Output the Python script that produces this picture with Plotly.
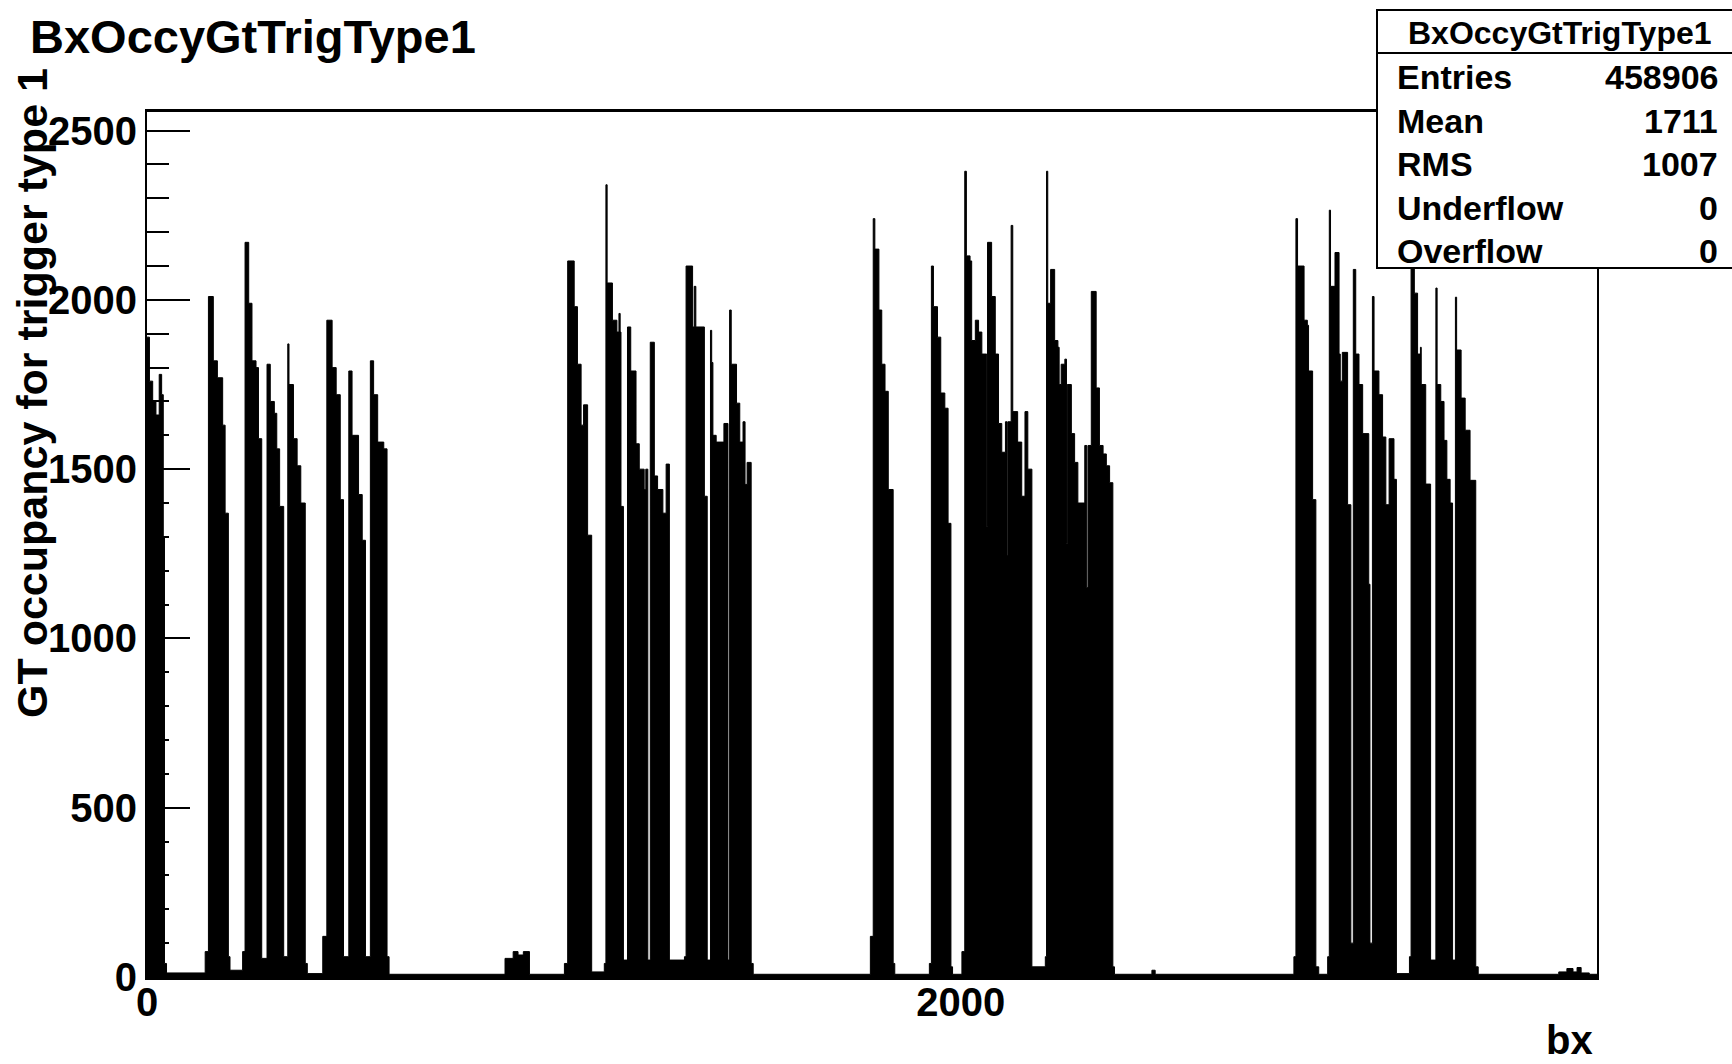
import plotly.graph_objects as go

# ---- data: step histogram (value holds from this bx until the next step) ----
step_bx = [
    0, 6, 14, 22, 30, 36, 40, 43, 48,
    143, 151, 163, 173, 186, 192, 200, 204,
    235, 241, 250, 258, 268, 274, 282,
    295, 303, 313, 319, 326, 336,
    346, 349, 360, 369, 378, 389, 394,
    432, 442, 455, 465, 475, 483,
    496, 504, 520, 529, 537,
    549, 557, 567, 582, 590, 595,
    880, 900, 912, 925, 940,
    1026, 1034, 1050, 1058, 1067, 1073, 1083, 1093,
    1124, 1128, 1131, 1144, 1155, 1160, 1163, 1165, 1171,
    1181, 1189, 1202, 1210, 1222, 1226, 1231,
    1237, 1247, 1255, 1268, 1276, 1284,
    1321, 1325, 1341, 1345, 1349, 1370, 1377,
    1385, 1388, 1391, 1399, 1418, 1428,
    1432, 1436, 1449, 1457, 1465, 1470, 1475, 1485, 1490,
    1778, 1785, 1789, 1799, 1806, 1814, 1822, 1834, 1838,
    1923, 1928, 1933, 1943, 1951, 1961, 1969, 1976, 1980,
    2003, 2010, 2014, 2023, 2027, 2036, 2044, 2052, 2064, 2066, 2076, 2085,
    2093, 2101, 2110, 2114, 2116, 2124, 2128, 2140, 2150, 2158, 2165, 2175,
    2208, 2211, 2214, 2221, 2231, 2239, 2242, 2247, 2256, 2260, 2262, 2272,
    2280, 2288, 2305, 2310, 2313, 2321, 2333, 2341, 2350, 2358, 2366, 2374, 2378,
    2470, 2478,
    2819, 2824, 2828, 2844, 2852, 2855, 2865, 2873, 2880,
    2902, 2906, 2909, 2920, 2930, 2933, 2938, 2951, 2959,
    2965, 2971, 2979, 2988, 3003, 3006,
    3012, 3016, 3028, 3037, 3045, 3053, 3065, 3071,
    3103, 3107, 3115, 3123, 3130, 3132, 3143, 3155,
    3168, 3171, 3180, 3188, 3195, 3203, 3209,
    3216, 3219, 3230, 3240, 3252, 3266, 3272,
    3470, 3490, 3505, 3515, 3525, 3545, 3564,
]
step_val = [
    1890, 1760, 1700, 1660, 1780, 1720, 1300, 40, 12,
    75, 2010, 1820, 1770, 1630, 1370, 60, 20,
    75, 2170, 1990, 1820, 1800, 1590, 55,
    1810, 1700, 1665, 1560, 1390, 60,
    1870, 1750, 1590, 1510, 1400, 40, 10,
    120, 1940, 1800, 1720, 1410, 60,
    1790, 1600, 1425, 1290, 60,
    1820, 1720, 1580, 1560, 60, 8,
    55, 75, 65, 75, 8,
    40, 2115, 1980, 1810, 1630, 1690, 1305, 15,
    40, 2340, 2050, 1940, 1905, 1960, 1905, 1390, 50,
    1920, 1790, 1575, 1500, 1440, 1500, 50,
    1875, 1480, 1440, 1370, 1515, 50,
    60, 2100, 1920, 2040, 1920, 1420, 50,
    1910, 1815, 1600, 1580, 1635, 50,
    1970, 1810, 1695, 1580, 1640, 1455, 1520, 40, 8,
    120, 2240, 2150, 1970, 1810, 1730, 1440, 40, 8,
    40, 2100, 1980, 1890, 1725, 1680, 1340, 30, 8,
    75, 2380, 2130, 2115, 1880, 1940, 1905, 1840, 1330, 2170, 2010, 1840,
    1635, 1550, 1640, 1245, 1640, 2220, 1670, 1580, 1420, 1670, 1500, 30,
    60, 2380, 1990, 2090, 1880, 1860, 1750, 1810, 1825, 1280, 1750, 1605,
    1520, 1400, 1570, 1150, 1570, 2025, 1740, 1570, 1545, 1510, 1460, 30, 8,
    20, 8,
    60, 2240, 2100, 1940, 1925, 1790, 1410, 30, 8,
    60, 2265, 2040, 2140, 1840, 1760, 1845, 1395, 100,
    2090, 1840, 1750, 1605, 1160, 100,
    2010, 1790, 1720, 1595, 1395, 1590, 1470, 10,
    60, 2150, 2020, 1840, 1860, 1750, 1456, 50,
    2035, 1750, 1700, 1585, 1470, 1400, 50,
    2008, 1852, 1710, 1615, 1467, 30, 8,
    15, 25, 15, 28, 12, 8, 8,
]

y_ticks = [0, 500, 1000, 1500, 2000, 2500]
x_ticks = [0, 2000]
x_tick_text = ["0", "2000"]

title_text = "BxOccyGtTrigType1"
x_title = "bx"
y_title = "GT occupancy for trigger type 1"
stat_names = ["Entries", "Mean", "RMS", "Underflow", "Overflow"]
stat_values = ["458906", "1711", "1007", "0", "0"]

# ---- figure ----
W, H = 1732, 1064
FONT = "Liberation Sans, Arial, Helvetica, sans-serif"

def px(x):
    return x / W

def py(y):
    return 1 - y / H

fig = go.Figure()
fig.add_trace(go.Scatter(
    x=step_bx, y=step_val, mode="lines", line_shape="hv",
    line=dict(color="black", width=1), fill="tozeroy", fillcolor="black",
    hoverinfo="skip", showlegend=False,
))

fig.update_layout(
    width=W, height=H,
    margin=dict(l=0, r=0, t=0, b=0, autoexpand=False),
    paper_bgcolor="white", plot_bgcolor="white",
    showlegend=False,
    xaxis=dict(
        domain=[px(147), px(1597)], range=[0, 3564],
        tickvals=x_ticks, ticktext=x_tick_text, ticks="",
        showgrid=False, zeroline=False,
        showline=True, linecolor="black", linewidth=3, mirror=True,
        tickfont=dict(family=FONT, size=40, color="black", weight=700),
        ticklabelstandoff=-12,
    ),
    yaxis=dict(
        domain=[py(977), py(112)], range=[0, 2555],
        tickvals=y_ticks, ticks="inside", ticklen=43, tickwidth=2, tickcolor="black",
        minor=dict(dtick=100, ticks="inside", ticklen=22, tickwidth=2, tickcolor="black"),
        showgrid=False, zeroline=False,
        showline=True, linecolor="black", linewidth=2, mirror=True,
        tickfont=dict(family=FONT, size=40, color="black", weight=700),
        ticklabelstandoff=0,
    ),
)

ann = []
ann.append(dict(text=title_text, x=px(28), y=py(36), xref="paper", yref="paper",
                xanchor="left", yanchor="middle", showarrow=False,
                font=dict(family=FONT, size=47, color="black", weight=700)))
ann.append(dict(text=y_title, x=px(32), y=py(66), xref="paper", yref="paper",
                xanchor="center", yanchor="top", textangle=-90, showarrow=False,
                font=dict(family=FONT, size=43, color="black", weight=700)))
ann.append(dict(text=x_title, x=px(1595), y=py(1040), xref="paper", yref="paper",
                xanchor="right", yanchor="middle", showarrow=False,
                font=dict(family=FONT, size=40, color="black", weight=700)))

# stats box
shapes = [
    dict(type="rect", xref="paper", yref="paper", x0=px(1377), x1=px(1745),
         y0=py(268), y1=py(10), line=dict(color="black", width=2), fillcolor="white",
         layer="above"),
    dict(type="line", xref="paper", yref="paper", x0=px(1377), x1=px(1745),
         y0=py(53), y1=py(53), line=dict(color="black", width=2), layer="above"),
]
ann.append(dict(text=title_text, x=px(1560), y=py(33), xref="paper", yref="paper",
                xanchor="center", yanchor="middle", showarrow=False,
                font=dict(family=FONT, size=32, color="black", weight=700)))
row_y = [77, 121, 164, 208, 251]
for name, val, yy in zip(stat_names, stat_values, row_y):
    ann.append(dict(text=name, x=px(1395), y=py(yy), xref="paper", yref="paper",
                    xanchor="left", yanchor="middle", showarrow=False,
                    font=dict(family=FONT, size=34, color="black", weight=700)))
    ann.append(dict(text=val, x=px(1720), y=py(yy), xref="paper", yref="paper",
                    xanchor="right", yanchor="middle", showarrow=False,
                    font=dict(family=FONT, size=34, color="black", weight=700)))

fig.update_layout(annotations=ann, shapes=shapes)
fig.write_html("out.html", config={"displayModeBar": False},
               post_script="document.body.style.margin='0';document.body.style.overflow='hidden';")
